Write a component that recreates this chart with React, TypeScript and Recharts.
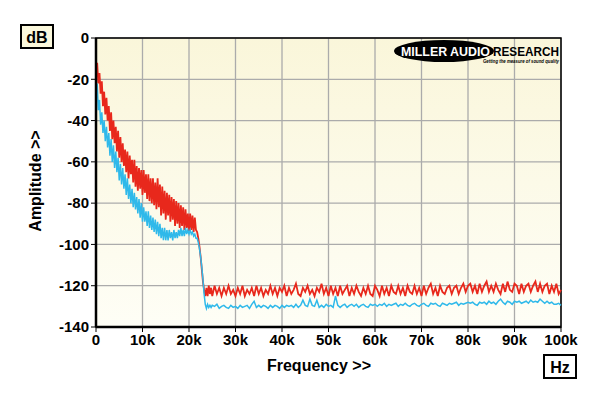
import {
  CartesianGrid,
  Line,
  LineChart,
  ReferenceArea,
  XAxis,
  YAxis
} from 'recharts'

// spectrum bins: 0–25k every 0.25k, then 25.5k–100k every 0.5k (values in dB)
const LOW_STEP = 0.25
const HIGH_START = 25.5
const HIGH_STEP = 0.5

const redLow = [
  -16, -12, -22, -17, -27, -21, -33, -26, -37, -29,
  -40, -33, -45, -36, -49, -40, -51, -43, -55, -45,
  -58, -48, -60, -51, -62, -54, -65, -55, -68, -57,
  -66, -59, -70, -59, -72, -62, -74, -63, -73, -64,
  -76, -64, -75, -66, -78, -66, -79, -68, -80, -68,
  -81, -70, -83, -68, -82, -71, -86, -72, -85, -74,
  -88, -75, -86, -76, -89, -77, -88, -78, -91, -79,
  -90, -80, -92, -81, -91, -82, -93, -83, -92, -85,
  -94, -85, -93, -86, -94, -87, -93, -94, -97, -101,
  -106, -112, -118, -122, -125, -121, -125, -120, -124, -121,
  -125
]

const blueLow = [
  -26, -22, -35, -30, -42, -36, -46, -40, -50, -43,
  -53, -46, -57, -49, -60, -52, -63, -55, -65, -58,
  -69, -61, -71, -63, -73, -66, -76, -68, -78, -71,
  -80, -73, -82, -75, -83, -77, -85, -78, -87, -80,
  -89, -82, -89, -84, -91, -84, -92, -86, -93, -87,
  -94, -88, -95, -89, -96, -90, -97, -92, -98, -92,
  -98, -93, -98, -93, -97, -94, -98, -93, -97, -94,
  -97, -93, -96, -92, -96, -93, -96, -92, -95, -93,
  -95, -93, -95, -94, -96, -95, -97, -97, -99, -102,
  -106, -111, -117, -124, -129, -131, -129, -130.5, -129.5, -130.5,
  -129.5
]

const redHigh = [
  -120, -124, -121, -125, -121, -124, -120, -124, -122, -125,
  -121, -124, -120, -125, -122, -124, -121, -125, -120, -124,
  -121, -125, -122, -124, -120, -124, -121, -125, -121, -123,
  -120, -125, -121, -124, -122, -119, -124, -125, -121, -123,
  -120, -124, -122, -125, -121, -123, -119, -124, -121, -125,
  -120, -124, -121, -125, -120, -124, -122, -120, -125, -121,
  -124, -120, -123, -125, -121, -124, -120, -124, -125, -120,
  -122, -125, -120, -124, -121, -125, -120, -123, -124, -120,
  -124, -121, -125, -120, -123, -124, -120, -124, -121, -125,
  -120, -124, -121, -119, -124, -121, -125, -120, -123, -124,
  -121, -120, -124, -121, -120, -124, -121, -119, -123, -120,
  -119, -123, -120, -124, -119, -123, -120, -118, -123, -120,
  -123, -119, -122, -124, -119, -123, -118, -122, -123, -119,
  -120, -124, -119, -123, -120, -119, -123, -120, -118, -123,
  -119, -123, -120, -119, -124, -120, -123, -119, -124, -122
]

const blueHigh = [
  -130, -129, -131, -130, -129.5, -130.5, -131, -129.5, -130.5, -130,
  -131, -129.5, -130.5, -130, -129.5, -131, -129, -127.5, -130.5, -129.5,
  -130.5, -129.5, -130, -131, -129.5, -130.5, -129.5, -130, -131, -129.5,
  -130.5, -129.5, -130, -129.5, -130.5, -129, -130.5, -129.5, -127, -129.5,
  -130, -126.5, -129.5, -130, -127, -130.5, -129.5, -130.5, -129, -130,
  -129.5, -130.5, -125, -129.5, -130.5, -129.5, -129, -130.5, -129.5, -129,
  -130, -129, -130.5, -129.5, -129, -130, -130.5, -129, -129.5, -129,
  -130, -129, -129.5, -128.5, -130, -129, -129.5, -129, -128.5, -130,
  -129, -129.5, -128.5, -129.5, -130, -129, -128.5, -129.5, -130, -129,
  -128.5, -129.5, -130, -128.5, -129, -128.5, -129.5, -130, -128.5, -129,
  -129.5, -128.5, -129, -128.5, -128, -129.5, -128.5, -129, -128.5, -128,
  -128.5, -128, -129, -129.5, -128, -128.5, -128, -129, -127.5, -128.5,
  -128, -129, -127.5, -126.5, -128, -129, -127.5, -128, -129, -127.5,
  -128, -127.5, -128.5, -128, -127.5, -128.5, -127, -128, -127.5, -128,
  -126.5, -127.5, -128.5, -127.5, -128.5, -128, -129, -129, -128.5, -129.5
]

const xTicks = [0, 10, 20, 30, 40, 50, 60, 70, 80, 90, 100]
const yTicks = [0, -20, -40, -60, -80, -100, -120, -140]

const data = [
  ...redLow.map((r, i) => ({ f: i * LOW_STEP, red: r, blue: blueLow[i] })),
  ...redHigh.map((r, i) => ({ f: HIGH_START + i * HIGH_STEP, red: r, blue: blueHigh[i] }))
]

const FONT = '"Liberation Sans", Arial, sans-serif'
const tickStyle = { fill: '#000', fontSize: 15, fontWeight: 700, fontFamily: FONT }

const Overlay = () => (
  <svg
    width={600}
    height={396}
    style={{ position: 'absolute', left: 0, top: 0, pointerEvents: 'none' }}
    fontFamily={FONT}
    fontWeight={700}
  >
    <rect x={21} y={25} width={32} height={23} fill="#fbf8dc" stroke="#000" strokeWidth={2} />
    <text x={37} y={42.5} fontSize={16} textAnchor="middle">dB</text>
    <rect x={544} y={355} width={32} height={23} fill="#fff" stroke="#000" strokeWidth={2} />
    <text x={560} y={372.5} fontSize={16} textAnchor="middle">Hz</text>
    <text x={319} y={371} fontSize={16} textAnchor="middle">Frequency &gt;&gt;</text>
    <text
      x={0}
      y={0}
      fontSize={16}
      textAnchor="middle"
      transform="translate(41 181) rotate(-90)"
    >
      Amplitude &gt;&gt;
    </text>
    <ellipse cx={444} cy={51} rx={50} ry={11} fill="#000" />
    <text x={401} y={55.5} fontSize={13} fill="#fff" textLength={89} lengthAdjust="spacingAndGlyphs">
      MILLER AUDIO
    </text>
    <text x={493} y={55.5} fontSize={13} fill="#000" textLength={66} lengthAdjust="spacingAndGlyphs">
      RESEARCH
    </text>
    <text
      x={483}
      y={62.5}
      fontSize={5}
      fontStyle="italic"
      textLength={76}
      lengthAdjust="spacingAndGlyphs"
    >
      Getting the measure of sound quality
    </text>
  </svg>
)

export default function App() {
  return (
    <div
      style={{
        position: 'fixed',
        left: 0,
        top: 0,
        width: 600,
        height: 396,
        background: '#fff'
      }}
    >
      <LineChart
        width={600}
        height={396}
        data={data}
        margin={{ top: 38, right: 39, bottom: 39, left: 40 }}
      >
        <defs>
          <linearGradient id="plotBg" x1="0" y1="0" x2="0" y2="1">
            <stop offset="0%" stopColor="#faf6da" />
            <stop offset="100%" stopColor="#fefef6" />
          </linearGradient>
        </defs>
        <CartesianGrid fill="url(#plotBg)" fillOpacity={1} stroke="#ababab" strokeWidth={1.3} />
        <XAxis
          dataKey="f"
          type="number"
          domain={[0, 100]}
          ticks={xTicks}
          tickFormatter={(v: number) => (v === 0 ? '0' : `${v}k`)}
          height={30}
          tick={tickStyle}
          tickSize={5}
          tickLine={{ stroke: '#000' }}
          axisLine={{ stroke: '#000', strokeWidth: 2.5 }}
          interval={0}
        />
        <YAxis
          type="number"
          domain={[-140, 0]}
          ticks={yTicks}
          width={56}
          tick={tickStyle}
          tickSize={5}
          tickLine={{ stroke: '#000' }}
          axisLine={{ stroke: '#000', strokeWidth: 2.5 }}
          interval={0}
        />
        <Line
          dataKey="red"
          stroke="#e8281c"
          strokeWidth={1.8}
          dot={false}
          isAnimationActive={false}
        />
        <Line
          dataKey="blue"
          stroke="#2fb9ea"
          strokeWidth={1.5}
          dot={false}
          isAnimationActive={false}
        />
        <ReferenceArea
          x1={0}
          x2={100}
          y1={-140}
          y2={0}
          fill="none"
          stroke="#000"
          strokeWidth={1.5}
        />
      </LineChart>
      <Overlay />
    </div>
  )
}
